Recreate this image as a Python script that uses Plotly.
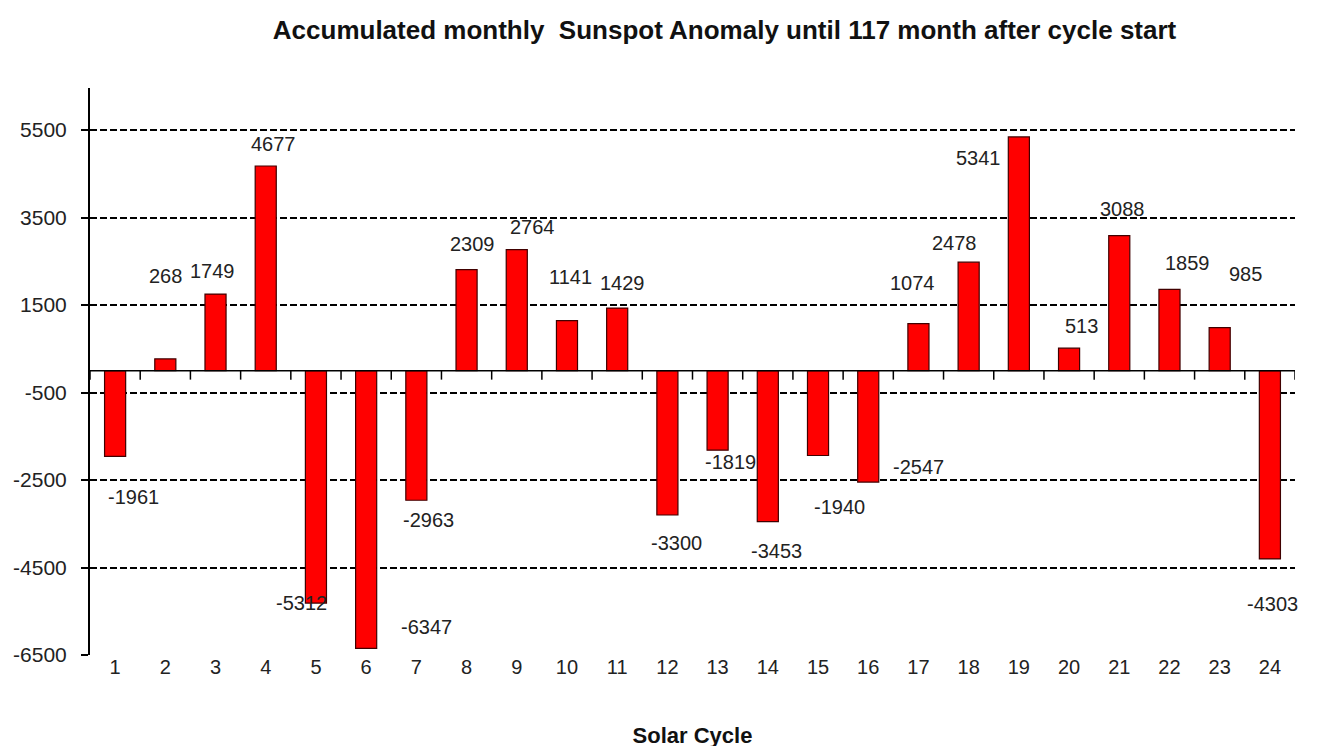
import plotly.graph_objects as go

cycles = [str(i) for i in range(1, 25)]
values = [-1961, 268, 1749, 4677, -5312, -6347, -2963, 2309, 2764, 1141, 1429, -3300,
          -1819, -3453, -1940, -2547, 1074, 2478, 5341, 513, 3088, 1859, 985, -4303]
y_ticks = [5500, 3500, 1500, -500, -2500, -4500, -6500]

# label pixel offsets (dx, dy) from bar end, style only
label_offsets = [(18, -41), (0, 83), (-3, 23), (8, 22), (-14, 0), (60, 21), (12, -20), (6, 26),
                 (16, 23), (4, 44), (5, 25), (9, -28), (13, -12), (9, -29), (21, -51), (50, 15),
                 (-6, 41), (-14, 19), (-40, -21), (12, 22), (3, 27), (18, 26), (26, 54), (3, -45)]

FONT = "Liberation Sans, Arial"

fig = go.Figure()
fig.add_trace(go.Bar(
    x=cycles, y=values, width=0.42,
    marker=dict(color="#FF0000", line=dict(color="#400000", width=1.2)),
    hoverinfo="x+y",
))

for i, (v, (dx, dy)) in enumerate(zip(values, label_offsets)):
    fig.add_annotation(x=i, y=v, text=str(v), showarrow=False, xshift=dx,
                       yshift=dy, font=dict(family=FONT, size=20, color="#222"))

# tick marks on the zero line between categories
for i in range(len(cycles) + 1):
    fig.add_shape(type="line", xref="x", yref="y", x0=i - 0.5, x1=i - 0.5,
                  ysizemode="pixel", yanchor=0, y0=0, y1=-9,
                  line=dict(color="black", width=1.5))
fig.add_shape(type="line", xref="x", yref="y", x0=-0.5, x1=len(cycles) - 0.5, y0=0, y1=0,
              line=dict(color="black", width=1.5))

fig.update_layout(
    width=1322, height=746,
    margin=dict(l=82, r=35, t=80, b=99),
    paper_bgcolor="white", plot_bgcolor="white",
    showlegend=False,
    font=dict(family=FONT, size=20, color="#222"),
    title=dict(text="<b>Accumulated monthly  Sunspot Anomaly until 117 month after cycle start</b>",
               x=0.542, xanchor="center", y=0.9705, yanchor="middle",
               font=dict(size=26, color="#111")),
    xaxis=dict(type="category", range=[-0.5, 23.5], showline=False, ticks="",
               showgrid=False, tickfont=dict(size=20), ticklabelstandoff=-2,
               automargin=False,
               title=dict(text="<b>Solar Cycle</b>", font=dict(size=22, color="#111"), standoff=50)),
    yaxis=dict(range=[-6500, 6460], tickvals=y_ticks, ticktext=[str(t) for t in y_ticks],
               showgrid=True, gridcolor="black", griddash="7px,3px", gridwidth=1.5,
               showline=True, linecolor="black", linewidth=2,
               ticks="outside", ticklen=7, tickcolor="black", tickwidth=1.5,
               ticklabelstandoff=10, automargin=False,
               zeroline=False, tickfont=dict(size=21)),
)

fig.write_html("out.html")
